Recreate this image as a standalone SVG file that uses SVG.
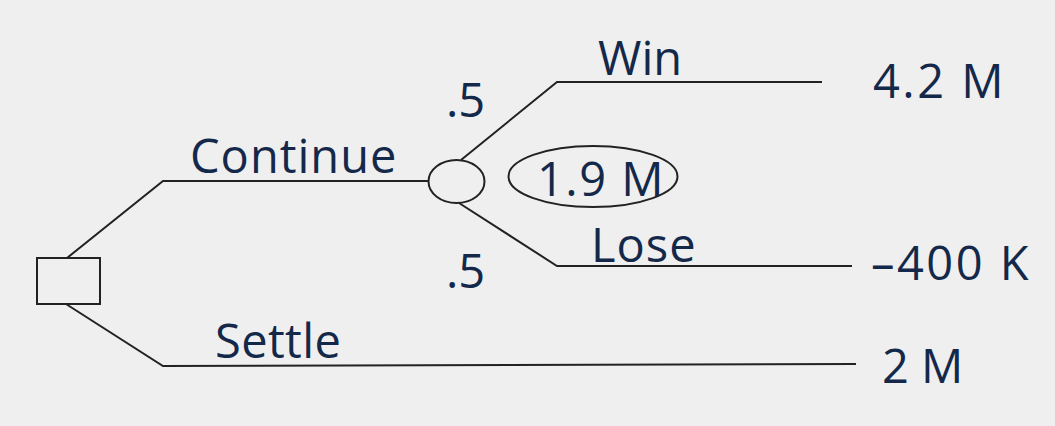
<svg xmlns="http://www.w3.org/2000/svg" width="1055" height="426" viewBox="0 0 1055 426">
<style>
.ln{fill:none;stroke:#222;stroke-width:2}
.t{font-family:"Open Sans","DejaVu Sans",sans-serif;font-size:47px;fill:#14294a}
</style>
<rect width="1055" height="426" fill="#efefef"/>
<g id="connectors">
<polyline class="ln" points="67,258 163,181 429,181"/>
<polyline class="ln" points="66,304 163,366 856,364"/>
<polyline class="ln" points="461,160 557,82 822,82"/>
<polyline class="ln" points="459,203 557,266 852,266"/>
</g>
<g id="decision"><rect class="ln" x="37" y="258" width="63" height="46"/></g>
<g id="chance"><ellipse class="ln" cx="456.5" cy="181.5" rx="28" ry="21.5"/></g>
<g id="labels">
<text class="t" x="190" y="173" letter-spacing="1">Continue</text>
<text class="t" x="215" y="358" letter-spacing="0.4">Settle</text>
<text class="t" x="598" y="75">Win</text>
<text class="t" x="591" y="262" letter-spacing="1">Lose</text>
<text class="t" x="446" y="117">.5</text>
<text class="t" x="446" y="288">.5</text>
</g>
<g id="ev"><ellipse class="ln" cx="593" cy="176.5" rx="84.5" ry="30.5"/><text class="t" x="537" y="196" letter-spacing="1.5">1.9 M</text></g>
<g id="outcomes">
<text class="t" x="873" y="98" letter-spacing="2.5">4.2 M</text>
<text class="t" x="871" y="280" letter-spacing="2.5">–400 K</text>
<text class="t" x="882" y="383">2 M</text>
</g>
</svg>
